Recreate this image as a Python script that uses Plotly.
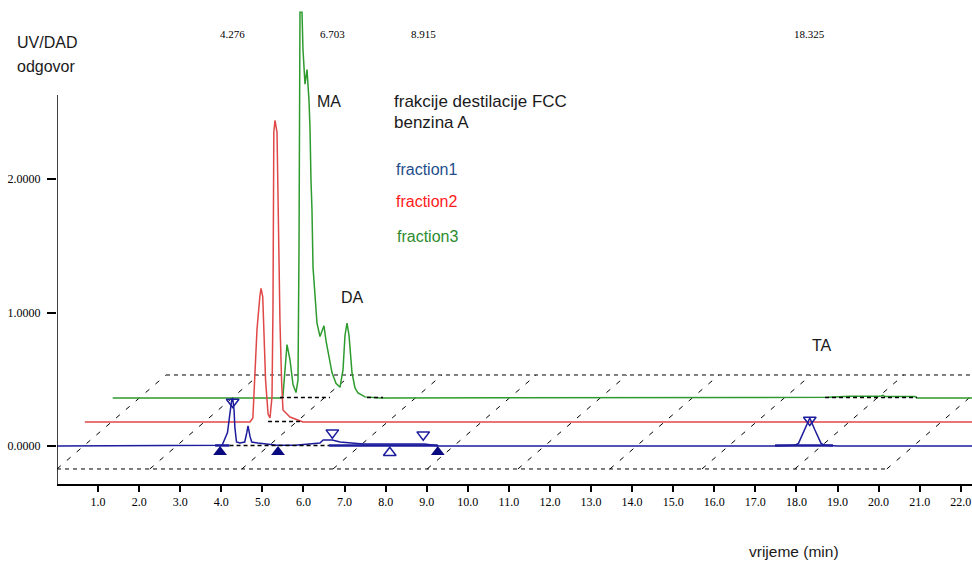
import plotly.graph_objects as go

# ---------------- data (retention time in min, UV/DAD response) ----------------
BLUE_T = [0.0, 3.90, 4.02, 4.15, 4.21, 4.25, 4.276, 4.31, 4.33, 4.37, 4.45, 4.57, 4.62, 4.65,
          4.70, 4.74, 4.89, 5.10, 5.35, 5.80, 6.08, 6.40, 6.48, 6.70, 6.89, 7.20, 7.45, 8.95,
          9.15, 9.30, 17.50, 17.95, 18.05, 18.20, 18.325, 18.45, 18.60, 18.70, 19.00, 22.30]
BLUE_V = [0.0, 0.0, 0.005, 0.10, 0.27, 0.34, 0.36, 0.27, 0.14, 0.03, 0.022, 0.03, 0.10, 0.15,
          0.07, 0.03, 0.022, 0.015, 0.005, 0.005, 0.015, 0.022, 0.045, 0.045, 0.03, 0.022, 0.015, 0.015,
          0.005, 0.0, 0.0, 0.005, 0.02, 0.12, 0.21, 0.12, 0.02, 0.005, 0.0, 0.0]

RED_T = [0.0, 4.02, 4.09, 4.14, 4.19, 4.26, 4.288, 4.33, 4.36, 4.40, 4.46, 4.507, 4.556, 4.58,
         4.60, 4.629, 4.678, 4.70, 4.726, 4.75, 4.79, 4.823, 4.993, 5.164, 5.31, 22.30]
RED_V = [0.0, 0.0, 0.03, 0.34, 0.69, 0.94, 1.00, 0.94, 0.69, 0.31, 0.06, 0.03, 0.19, 0.86,
         2.17, 2.26, 2.17, 1.72, 1.15, 0.75, 0.30, 0.09, 0.037, 0.015, 0.0, 0.0]

GREEN_T = [0.0, 4.12, 4.146, 4.195, 4.243, 4.316, 4.389, 4.462, 4.511, 4.535, 4.559, 4.608,
           4.632, 4.681, 4.705, 4.73, 4.778, 4.802, 4.827, 4.851, 4.876, 4.924, 4.973, 5.046,
           5.095, 5.143, 5.192, 5.241, 5.338, 5.435, 5.533, 5.606, 5.655, 5.704, 5.752, 5.825,
           5.898, 5.971, 6.142, 6.507, 17.41, 17.95, 18.68, 18.75, 18.80, 19.53, 19.58, 22.30]
GREEN_V = [0.0, 0.0, 0.02, 0.21, 0.40, 0.285, 0.10, 0.04, 0.135, 1.11, 2.89, 2.89,
           2.61, 2.35, 2.43, 2.46, 2.23, 2.03, 1.63, 1.41, 0.98, 0.73, 0.56, 0.46,
           0.51, 0.54, 0.43, 0.34, 0.19, 0.11, 0.08, 0.21, 0.47, 0.56, 0.47, 0.19,
           0.075, 0.037, 0.008, 0.0, 0.005, 0.012, 0.012, 0.02, 0.01, 0.01, 0.0, 0.0]

# integration baselines (start, end) per fraction
BLUE_DASHED_BASE = [(4.20, 6.62)]
BLUE_SOLID_BASE = [(3.85, 4.20), (6.62, 9.27), (17.48, 18.89)]
RED_DASHED_BASE = [(4.46, 5.31)]
GREEN_DASHED_BASE = [(4.07, 5.29), (6.19, 6.58), (17.34, 19.58)]

# peak markers of fraction1
APEX_T = [4.276, 6.703, 8.915, 18.325]
APEX_V = [0.33, 0.10, 0.085, 0.195]
PEAK_LIMIT_T = [3.97, 5.38, 9.27]
PEAK_LIMIT_V = [-0.045, -0.045, -0.045]
VALLEY_T = [8.10]
VALLEY_V = [-0.05]
RT_LABELS = ["4.276", "6.703", "8.915", "18.325"]

# floor grid of the stacked (pseudo-3D) view
FLOOR_T = [0.0, 2.26, 4.50, 6.72, 9.01, 11.22, 13.46, 15.70, 17.96, 20.20]

X_TICKS = list(range(1, 23))
X_TICK_TEXT = [f"{v:.1f}" for v in X_TICKS]
Y_TICKS = [0, 1, 2]
Y_TICK_TEXT = ["0.0000", "1.0000", "2.0000"]

# ---------------- styling / geometry ----------------
BLUE = "#1c1c9c"
RED = "#e04848"
GREEN = "#2e9b2e"
X_RANGE = [0, 22.274]
Y_RANGE = [-0.2846, 3.341]
RED_DX, RED_DY = 0.678, 0.18
GREEN_DX, GREEN_DY = 1.356, 0.36
FLOOR_LOW, FLOOR_HIGH, FLOOR_DX = -0.172, 0.532, 2.653
PLOT_L, PLOT_W, PLOT_H = 57, 915, 484


def yd(py):
    # window pixel -> y data
    return (446 - py) / 133.5


def xp(px):
    # window pixel -> paper x
    return (px - PLOT_L) / PLOT_W


def yp(py):
    # window pixel -> paper y
    return (PLOT_H - py) / PLOT_H


fig = go.Figure()

# floor grid
gx, gy = [], []
for tb in FLOOR_T:
    gx += [tb, tb + FLOOR_DX, None]
    gy += [FLOOR_LOW, FLOOR_HIGH, None]
fig.add_trace(go.Scatter(x=gx, y=gy, mode="lines",
                         line=dict(color="black", width=1, dash="5px,8px"), hoverinfo="skip"))
fig.add_trace(go.Scatter(x=[FLOOR_T[0], FLOOR_T[-1], None, FLOOR_T[0] + FLOOR_DX, X_RANGE[1] + 1],
                         y=[FLOOR_LOW, FLOOR_LOW, None, FLOOR_HIGH, FLOOR_HIGH],
                         mode="lines", line=dict(color="black", width=1, dash="4px,4px"),
                         hoverinfo="skip"))


def base_segments(segs, dx, dy, lift=0.004):
    xs, ys = [], []
    for a, b in segs:
        xs += [a + dx, b + dx, None]
        ys += [dy + lift, dy + lift, None]
    return xs, ys


# chromatograms
fig.add_trace(go.Scatter(x=[t + GREEN_DX for t in GREEN_T], y=[v + GREEN_DY for v in GREEN_V],
                         mode="lines", line=dict(color=GREEN, width=1.5), name="fraction3"))
fig.add_trace(go.Scatter(x=[t + RED_DX for t in RED_T], y=[v + RED_DY for v in RED_V],
                         mode="lines", line=dict(color=RED, width=1.5), name="fraction2"))
fig.add_trace(go.Scatter(x=BLUE_T, y=BLUE_V, mode="lines",
                         line=dict(color=BLUE, width=1.5), name="fraction1"))

# integration baselines
for segs, dx, dy in [(GREEN_DASHED_BASE, GREEN_DX, GREEN_DY), (RED_DASHED_BASE, RED_DX, RED_DY),
                     (BLUE_DASHED_BASE, 0, 0)]:
    xs, ys = base_segments(segs, dx, dy)
    fig.add_trace(go.Scatter(x=xs, y=ys, mode="lines",
                             line=dict(color="black", width=1.5, dash="4px,3px"), hoverinfo="skip"))
xs, ys = base_segments(BLUE_SOLID_BASE, 0, 0)
fig.add_trace(go.Scatter(x=xs, y=ys, mode="lines", line=dict(color=BLUE, width=2.5), hoverinfo="skip"))

# markers
fig.add_trace(go.Scatter(x=APEX_T, y=APEX_V, mode="markers",
                         marker=dict(symbol="triangle-down-open", size=11, color=BLUE,
                                     line=dict(width=1.5, color=BLUE))))
fig.add_trace(go.Scatter(x=PEAK_LIMIT_T, y=PEAK_LIMIT_V, mode="markers",
                         marker=dict(symbol="triangle-up", size=12, color="#0a0a80")))
fig.add_trace(go.Scatter(x=VALLEY_T, y=VALLEY_V, mode="markers",
                         marker=dict(symbol="triangle-up-open", size=11, color=BLUE,
                                     line=dict(width=1.5, color=BLUE))))

# y axis line
fig.add_shape(type="line", xref="x", yref="y", x0=0, x1=0, y0=Y_RANGE[0], y1=yd(95),
              line=dict(color="black", width=1.5))

SANS = "Liberation Sans, Arial, sans-serif"
SERIF = "Liberation Serif, Times New Roman, serif"
ann = []


def text(s, px, py, size=16, color="#1a1a1a", anchor="left", font=SANS):
    ann.append(dict(text=s, x=xp(px), y=yp(py), xref="paper", yref="paper", showarrow=False,
                    xanchor=anchor, yanchor="middle", font=dict(family=font, size=size, color=color)))


text("UV/DAD", 15, 42)
text("odgovor", 15, 66)
text("MA", 315, 102)
text("DA", 339, 297)
text("TA", 810, 345)
text("frakcije destilacije FCC", 392, 101, size=17)
text("benzina A", 392, 122, size=17)
text("fraction1", 394, 169, size=16, color="#1f4e8c")
text("fraction2", 394, 201, size=16, color="#ff1a1a")
text("fraction3", 395, 236, size=16, color="#2e8b2e")
text("vrijeme (min)", 747, 551, size=15.5)
for t, lab in zip(APEX_T, RT_LABELS):
    ann.append(dict(text=lab, x=t, y=yp(34), xref="x", yref="paper", showarrow=False,
                    xanchor="center", yanchor="middle",
                    font=dict(family=SERIF, size=11, color="black")))

fig.update_layout(
    width=972, height=561,
    margin=dict(l=PLOT_L, r=0, t=0, b=561 - PLOT_H),
    paper_bgcolor="white", plot_bgcolor="white",
    showlegend=False,
    annotations=ann,
    xaxis=dict(range=X_RANGE, tickvals=X_TICKS, ticktext=X_TICK_TEXT, ticks="outside",
               ticklen=6, tickwidth=1.5, tickcolor="black", showline=True, linecolor="black",
               linewidth=1.5, showgrid=False, zeroline=False,
               tickfont=dict(family=SERIF, size=12, color="black")),
    yaxis=dict(range=Y_RANGE, tickvals=Y_TICKS, ticktext=Y_TICK_TEXT, ticks="outside",
               ticklen=9, tickwidth=1.5, tickcolor="black", showline=False, showgrid=False,
               zeroline=False, ticklabelstandoff=4,
               tickfont=dict(family=SERIF, size=12, color="black")),
)

fig.write_html("out.html", config={"displayModeBar": False},
               post_script="document.body.style.margin='0';document.body.style.overflow='hidden';")
